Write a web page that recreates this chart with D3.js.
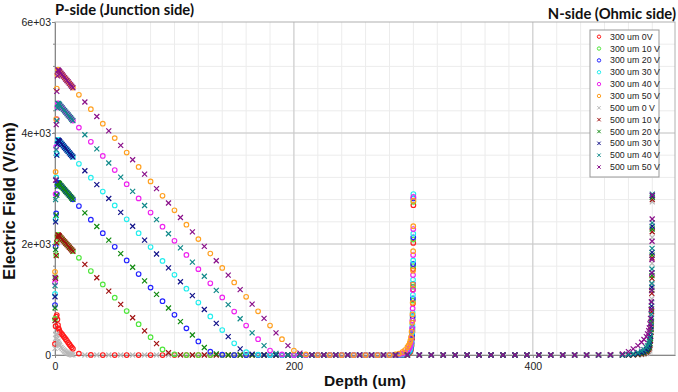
<!DOCTYPE html>
<html>
<head>
<meta charset="utf-8">
<script src="https://cdn.jsdelivr.net/npm/d3@7"></script>
<style>
  body { margin: 0; background: #fff; }
</style>
</head>
<body>
<svg id="drawing_region"></svg>
<script>
// mesh positions (um)
const depth300 = [0,0.5,1,1.5,2,2.5,3,3.5,4,5,6,7,8,9,10,11,12,13,14,15,
  20,30,40,50,60,70,80,90,100,110,120,130,140,150,160,170,180,190,200,210,220,230,240,250,260,270,280,
  285,288,291,293,295,296,297,297.5,298,298.5,299,299.2,299.4,299.6,299.7,299.8,299.9,300];

const depth500 = [0,0.5,1,1.5,2,2.5,3,3.5,4,5,6,7,8,9,10,11,12,13,14,15,
  25,35,45,55,65,75,85,95,105,115,125,135,145,155,165,175,185,195,205,215,225,235,245,255,265,275,
  285,295,305,315,325,335,345,355,365,375,385,395,405,415,425,435,445,455,465,475,
  480,484,488,491,493,495,496,497,497.5,498,498.5,499,499.2,499.4,499.6,499.7,499.8,499.9,500];

// electric field (V/cm), 300 um sensor
const e300_0 = [200,520,690,720,640,540,480,450,420,395,370,342,315,285,255,225,195,165,138,112,
  25,2,0,0,0,0,0,0,0,0,0,0,0,0,0,0,0,0,0,0,0,0,0,0,0,0,0,
  0,0,0,5,15,25,45,65,100,165,290,420,620,930,1180,1550,2020,2700];
const e300_10 = [650,1400,1800,2030,2130,2165,2160,2148,2136,2112,2088,2064,2040,2016,1992,1968,1944,1920,1896,1872,
  1752,1512,1272,1032,792,555,320,100,12,0,0,0,0,0,0,0,0,0,0,0,0,0,0,0,0,0,0,
  0,0,3,10,22,36,60,85,125,195,330,460,660,980,1230,1600,2080,2760];
const e300_20 = [900,1950,2550,2900,3050,3105,3100,3088,3076,3051,3027,3002,2978,2953,2929,2904,2880,2855,2831,2806,
  2684,2439,2194,1949,1704,1459,1214,969,724,480,245,60,6,0,0,0,0,0,0,0,0,0,0,0,0,0,0,
  0,0,5,15,30,48,75,100,145,220,360,500,700,1020,1280,1640,2120,2820];
const e300_30 = [1100,2450,3200,3620,3810,3875,3870,3858,3845,3820,3795,3770,3745,3720,3695,3670,3645,3620,3595,3570,
  3445,3195,2945,2695,2445,2195,1945,1695,1445,1195,945,695,450,210,50,5,0,0,0,0,0,0,0,0,0,0,0,
  0,3,10,22,42,62,92,122,172,252,405,545,765,1085,1355,1705,2185,2900];
const e300_40 = [1300,2900,3750,4250,4460,4535,4530,4517,4505,4479,4454,4428,4403,4377,4352,4326,4301,4275,4250,4224,
  4097,3842,3587,3332,3077,2822,2567,2312,2057,1802,1547,1292,1037,782,530,285,80,10,0,0,0,0,0,0,0,0,0,
  3,10,25,45,75,100,135,170,220,310,470,620,840,1170,1440,1800,2270,2850];
const e300_50 = [1500,3300,4250,4800,5050,5140,5130,5117,5104,5078,5052,5026,5000,4974,4948,4922,4896,4870,4844,4818,
  4688,4428,4168,3908,3648,3388,3128,2868,2608,2348,2088,1828,1568,1308,1048,788,530,285,80,10,0,0,0,0,0,0,0,
  10,25,55,90,140,175,220,260,320,420,580,730,940,1270,1520,1870,2320,2780];

// electric field (V/cm), 500 um sensor
const e500_0 = [120,300,380,360,300,250,215,190,170,140,115,92,72,55,40,28,18,10,5,2,
  0,0,0,0,0,0,0,0,0,0,0,0,0,0,0,0,0,0,0,0,0,0,0,0,0,0,
  0,0,0,0,0,0,0,0,0,0,0,0,0,0,0,0,0,0,0,0,
  0,0,2,6,12,25,38,60,82,120,195,330,470,680,1010,1270,1650,2120,2760];
const e500_10 = [620,1380,1790,2020,2125,2162,2158,2146,2134,2110,2086,2062,2038,2014,1990,1966,1942,1918,1894,1870,
  1632,1392,1152,912,672,435,205,40,3,0,0,0,0,0,0,0,0,0,0,0,0,0,0,0,0,0,
  0,0,0,0,0,0,0,0,0,0,0,0,0,0,0,0,0,0,0,0,
  0,3,8,18,30,52,72,102,130,175,260,410,560,780,1110,1380,1750,2220,2800];
const e500_20 = [850,1900,2520,2880,3040,3102,3098,3086,3074,3049,3025,3000,2976,2951,2927,2902,2878,2853,2829,2804,
  2561,2316,2071,1826,1581,1336,1091,846,601,360,135,20,0,0,0,0,0,0,0,0,0,0,0,0,0,0,
  0,0,0,0,0,0,0,0,0,0,0,0,0,0,0,0,0,0,0,0,
  2,6,15,28,45,72,95,130,160,210,300,460,610,830,1170,1430,1800,2270,2840];
const e500_30 = [1050,2400,3150,3600,3800,3872,3868,3856,3843,3818,3793,3768,3743,3718,3693,3668,3643,3618,3593,3568,
  3320,3070,2820,2570,2320,2070,1820,1570,1320,1070,820,570,330,110,15,0,0,0,0,0,0,0,0,0,0,0,
  0,0,0,0,0,0,0,0,0,0,0,0,0,0,0,0,0,0,0,0,
  5,12,25,42,62,95,120,160,195,250,345,510,660,880,1220,1480,1850,2320,2870];
const e500_40 = [1250,2800,3700,4220,4450,4532,4528,4516,4503,4478,4452,4427,4401,4376,4350,4325,4299,4274,4248,4223,
  3969,3714,3459,3204,2949,2694,2439,2184,1929,1674,1419,1164,909,654,400,170,30,2,0,0,0,0,0,0,0,0,
  0,0,0,0,0,0,0,0,0,0,0,0,0,0,0,0,0,0,0,3,
  12,25,45,70,95,135,165,210,250,310,410,580,730,950,1290,1550,1920,2380,2900];
const e500_50 = [1400,3150,4150,4750,5030,5135,5128,5115,5102,5076,5050,5024,4998,4972,4946,4920,4894,4868,4842,4816,
  4558,4298,4038,3778,3518,3258,2998,2738,2478,2218,1958,1698,1438,1178,918,660,400,170,35,3,0,0,0,0,0,0,
  0,0,0,0,0,0,0,0,0,0,0,0,0,0,0,0,0,1,5,20,
  60,110,170,230,280,330,380,440,490,560,660,820,960,1160,1480,1720,2050,2450,2880];

const seriesLabels = ['300 um 0V','300 um 10 V','300 um 20 V','300 um 30 V','300 um 40 V','300 um 50 V',
  '500 um 0 V','500 um 10 V','500 um 20 V','500 um 30 V','500 um 40 V','500 um 50 V'];

const xTicks = [0, 200, 400];
const xTickLabels = ['0', '200', '400'];
const yTicks = [0, 2000, 4000, 6000];
const yTickLabels = ['0', '2e+03', '4e+03', '6e+03'];

var config = {
  parent: '#drawing_region',
  width: 678,
  height: 392,
  margin: {top:22, right:2, bottom:37, left:55},
  xmax: 519,
  ymax: 6000,
  colors: ['#ff1a1a','#4ee63a','#2222ff','#22eeee','#ee22ee','#ffa020',
           '#b8b8b8','#a01010','#108a10','#12128a','#108a8a','#8a108a']
};

var series = seriesLabels.map((label, i) => ({
  label: label,
  depth: i < 6 ? depth300 : depth500,
  field: [e300_0,e300_10,e300_20,e300_30,e300_40,e300_50,
          e500_0,e500_10,e500_20,e500_30,e500_40,e500_50][i],
  shape: i < 6 ? 'circle' : 'cross',
  color: config.colors[i]
}));

class ScatterChart{
  constructor(config, series){
    this.config = config;
    this.series = series;
    this.init();
  }
  init(){
    this.svg = d3.select( this.config.parent )
      .attr('width', this.config.width)
      .attr('height', this.config.height);
    this.inner_width = this.config.width - this.config.margin.left - this.config.margin.right - 1;
    this.inner_height = this.config.height - this.config.margin.top - this.config.margin.bottom - 0;
    this.chart = this.svg.append('g')
      .attr('transform', `translate(${this.config.margin.left}, ${this.config.margin.top})`);

    this.xscale = d3.scaleLinear()
      .domain([0, this.config.xmax])
      .range([0, this.inner_width]);
    this.yscale = d3.scaleLinear()
      .domain([0, this.config.ymax])
      .range([this.inner_height, 0]);

    this.xaxis = d3.axisBottom( this.xscale )
      .tickValues(xTicks)
      .tickFormat((d, i) => xTickLabels[i])
      .tickSize(3)
      .tickSizeOuter(0);
    this.yaxis = d3.axisLeft( this.yscale )
      .tickValues(yTicks)
      .tickFormat((d, i) => yTickLabels[i])
      .tickSize(3)
      .tickSizeOuter(0);
  }
  render(){
    const w = this.inner_width, h = this.inner_height;

    // minor grid
    const grid = this.chart.append('g');
    grid.selectAll('.vminor')
      .data(d3.range(20, this.config.xmax, 20))
      .enter().append('line')
      .attr('x1', d => this.xscale(d)).attr('x2', d => this.xscale(d))
      .attr('y1', 0).attr('y2', h)
      .attr('stroke', '#ececec').attr('stroke-width', 1);
    grid.selectAll('.hminor')
      .data(d3.range(400, this.config.ymax, 400))
      .enter().append('line')
      .attr('x1', 0).attr('x2', w)
      .attr('y1', d => this.yscale(d)).attr('y2', d => this.yscale(d))
      .attr('stroke', '#ececec').attr('stroke-width', 1);
    // major grid
    grid.selectAll('.vmajor')
      .data(xTicks.slice(1))
      .enter().append('line')
      .attr('x1', d => this.xscale(d)).attr('x2', d => this.xscale(d))
      .attr('y1', 0).attr('y2', h)
      .attr('stroke', '#c8c8c8').attr('stroke-width', 1);
    grid.selectAll('.hmajor')
      .data(yTicks.slice(1, -1))
      .enter().append('line')
      .attr('x1', 0).attr('x2', w)
      .attr('y1', d => this.yscale(d)).attr('y2', d => this.yscale(d))
      .attr('stroke', '#c8c8c8').attr('stroke-width', 1);

    // frame
    this.chart.append('rect')
      .attr('x', 0).attr('y', 0).attr('width', w).attr('height', h)
      .attr('fill', 'none').attr('stroke', '#b0b0b0');

    // minor ticks on y axis
    this.chart.append('g').selectAll('line')
      .data(d3.range(400, this.config.ymax, 400))
      .enter().append('line')
      .attr('x1', -2).attr('x2', 0)
      .attr('y1', d => this.yscale(d)).attr('y2', d => this.yscale(d))
      .attr('stroke', '#888');

    const xaxis_group = this.chart.append('g')
      .attr('transform', `translate(0, ${h})`)
      .call( this.xaxis );
    const yaxis_group = this.chart.append('g')
      .call( this.yaxis );
    [xaxis_group, yaxis_group].forEach(g => {
      g.select('.domain').attr('stroke', '#888');
      g.selectAll('.tick line').attr('stroke', '#888');
      g.selectAll('.tick text')
        .attr('font-family', '"Liberation Sans", Arial, sans-serif')
        .attr('font-size', '10.5px')
        .attr('fill', '#222');
    });
    xaxis_group.selectAll('.tick text').attr('dy', '0.9em');
    yaxis_group.selectAll('.tick text').attr('x', -4);

    // markers
    const cross = 'M-2.5,-2.5L2.5,2.5M-2.5,2.5L2.5,-2.5';
    this.series.forEach(s => {
      const pts = s.depth.map((d, i) => [d, s.field[i]]);
      const g = this.chart.append('g');
      if (s.shape === 'circle') {
        g.selectAll('circle').data(pts).enter().append('circle')
          .attr('cx', d => this.xscale(d[0]))
          .attr('cy', d => this.yscale(d[1]))
          .attr('r', 2.3)
          .attr('fill', 'none')
          .attr('stroke', s.color)
          .attr('stroke-width', 1.15);
      } else {
        g.selectAll('path').data(pts).enter().append('path')
          .attr('transform', d => `translate(${this.xscale(d[0])},${this.yscale(d[1])})`)
          .attr('d', cross)
          .attr('fill', 'none')
          .attr('stroke', s.color)
          .attr('stroke-width', 1.2);
      }
    });

    // legend
    const lg = this.svg.append('g').attr('transform', 'translate(590, 30)');
    lg.append('rect')
      .attr('width', 69).attr('height', 147)
      .attr('fill', '#fff').attr('stroke', '#999');
    const items = lg.selectAll('.item').data(this.series).enter().append('g')
      .attr('transform', (d, i) => `translate(0, ${6.7 + i * 11.85})`);
    items.each(function(d){
      const it = d3.select(this);
      if (d.shape === 'circle') {
        it.append('circle').attr('cx', 9).attr('cy', 0).attr('r', 1.7)
          .attr('fill', 'none').attr('stroke', d.color);
      } else {
        it.append('path').attr('transform', 'translate(9,0)')
          .attr('d', 'M-1.7,-1.7L1.7,1.7M-1.7,1.7L1.7,-1.7')
          .attr('fill', 'none').attr('stroke', d.color);
      }
    });
    items.append('text')
      .attr('x', 20).attr('y', 0).attr('dy', '0.35em')
      .attr('font-family', '"Liberation Sans", Arial, sans-serif')
      .attr('font-size', '8.8px')
      .attr('fill', '#222')
      .text(d => d.label);

    // titles
    this.svg.append('text')
      .attr('x', 55).attr('y', 15)
      .attr('font-family', 'Lato, "Open Sans", sans-serif')
      .attr('font-weight', 'bold')
      .attr('font-size', '14.8px')
      .attr('fill', '#111')
      .text('P-side (Junction side)');
    this.svg.append('text')
      .attr('x', 676).attr('y', 19)
      .attr('text-anchor', 'end')
      .attr('font-family', 'Lato, "Open Sans", sans-serif')
      .attr('font-weight', 'bold')
      .attr('font-size', '14.8px')
      .attr('fill', '#111')
      .text('N-side (Ohmic side)');

    // axis titles
    this.svg.append('text')
      .attr('x', this.config.margin.left + w / 2).attr('y', 386)
      .attr('text-anchor', 'middle')
      .attr('font-family', '"Liberation Sans", Arial, sans-serif')
      .attr('font-weight', 'bold')
      .attr('font-size', '15.5px')
      .attr('fill', '#111')
      .text('Depth (um)');
    this.svg.append('text')
      .attr('transform', 'translate(15, 201) rotate(-90)')
      .attr('text-anchor', 'middle')
      .attr('font-family', '"Liberation Sans", Arial, sans-serif')
      .attr('font-weight', 'bold')
      .attr('font-size', '16.5px')
      .attr('fill', '#111')
      .text('Electric Field (V/cm)');
  }
}

const scatter_chart = new ScatterChart( config, series );
scatter_chart.render();
</script>
</body>
</html>
